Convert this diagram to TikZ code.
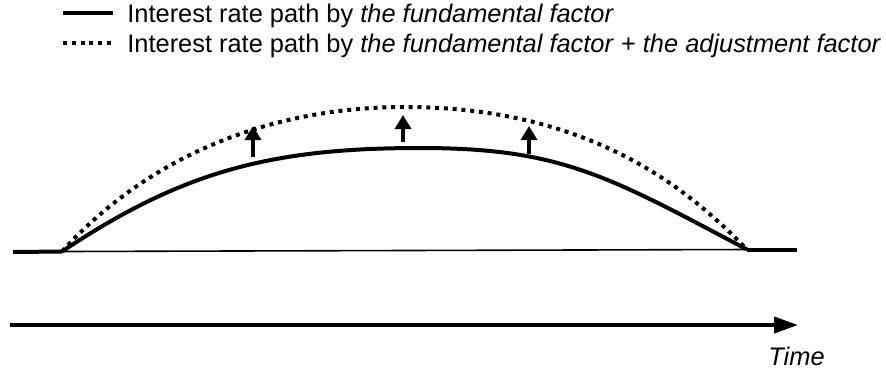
\documentclass[tikz,border=0pt]{standalone}
\usepackage{fontspec}
\setmainfont{Liberation Sans}
\usepackage{tikz}
\usetikzlibrary{arrows.meta,positioning}

\begin{document}
\begin{tikzpicture}[
  x=0.5pt,y=-0.5pt,
  label/.style={inner sep=0pt,anchor=base west,font=\fontsize{12.7}{15}\selectfont},
  base/.style={line width=2pt},
  adjusted/.style={line width=2pt,dash pattern=on 2pt off 2.4pt},
  lift/.style={-{Triangle[length=7pt,width=8pt]},line width=2.2pt},
  timeline/.style={-{Triangle[length=12pt,width=8pt]},line width=2pt}
]
\useasboundingbox (0,0) rectangle (886,371);

% legend
\coordinate (keyA) at (63,12.5);
\coordinate (keyB) at (63,43);
\draw[base] (keyA) -- ++(50,0);
\draw[adjusted] (keyB) -- ++(50,0);
\node[label] (fundamental) at (127,22) {Interest rate path by \textit{the fundamental factor}};
\node[label] (adjustment) at (127,52) {Interest rate path by \textit{the fundamental factor} + \textit{the adjustment factor}};

% level before and after the hump
\coordinate (start) at (62,251.5);
\coordinate (finish) at (747,249.5);
\coordinate (peak) at (420,148);
\coordinate (top) at (405,107);
\draw[base] (13,252) -- (start);
\draw[base] (finish) -- (797,249.5);
\draw[line width=0.8pt] (start) -- (finish);

% interest rate paths
\draw[base] (start) .. controls (182,171.6) and (270,148) .. (peak)
  .. controls (560,148) and (607,175.3) .. (finish);
\draw[adjusted] (start) .. controls (152,152.5) and (275,107) .. (top)
  .. controls (593,107) and (691,191.75) .. (finish);

% upward shifts
\coordinate (liftA) at (253,157);
\coordinate (liftB) at (403,142);
\coordinate (liftC) at (529,154);
\draw[lift] (liftA) -- ++(0,-31);
\draw[lift] (liftB) -- ++(0,-27);
\draw[lift] (liftC) -- ++(0,-28);

% time axis
\coordinate (origin) at (10,325);
\coordinate (later) at (798,325);
\draw[timeline] (origin) -- (later);
\node[label] (time) at (768,365) {\textit{Time}};
\end{tikzpicture}
\end{document}
